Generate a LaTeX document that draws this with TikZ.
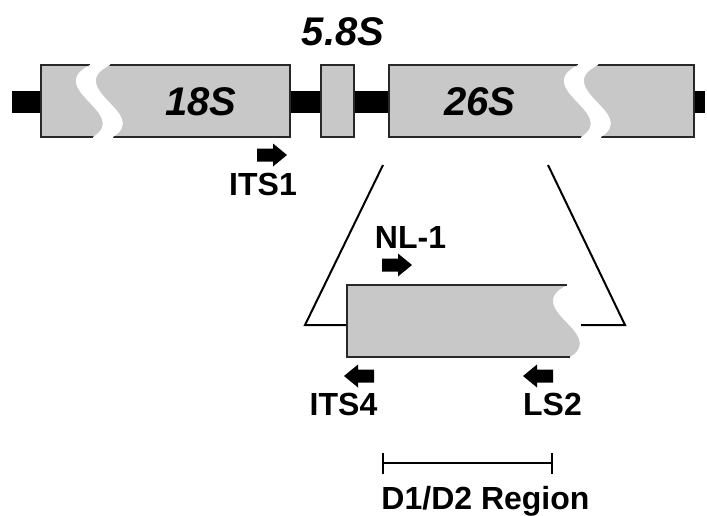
\documentclass[tikz,border=0pt]{standalone}
\usepackage{fontspec}
\setmainfont{Liberation Sans}
\definecolor{boxgray}{RGB}{200,200,200}
\definecolor{boxline}{RGB}{40,40,40}
\tikzset{
  genebox/.style={rectangle, fill=boxgray, draw=boxline, line width=1.2pt, inner sep=0pt, minimum height=72pt},
  lbl/.style={font=\bfseries\fontsize{32}{36}\selectfont, anchor=base, inner sep=0pt},
  biglbl/.style={font=\bfseries\itshape\fontsize{40}{44}\selectfont, anchor=base, inner sep=0pt},
  trapline/.style={line width=2pt, black},
  rarr/.pic={\fill (-15,-6.5) -- (1,-6.5) -- (1,-11.5) -- (15,0) -- (1,11.5) -- (1,6.5) -- (-15,6.5) -- cycle;}
}
\begin{document}
\begin{tikzpicture}[x=1pt,y=-1pt]
\useasboundingbox (0,0) rectangle (707,515);
% backbone bar
\fill[black] (12,91) rectangle (705,113);
% gene boxes
\node[genebox, minimum width=249pt] (b18) at (165.5,101) {};
\node[genebox, minimum width=33pt] (b58) at (337.5,101) {};
\node[genebox, minimum width=305pt] (b26) at (541.5,101) {};
% wavy breaks
\fill[white] (90,62) -- (90,65) .. controls (43,89) and (131,113) .. (93,137) -- (93,140) -- (113,140) -- (113,137) .. controls (151,113) and (63,89) .. (110,65) -- (110,62) -- cycle;
\fill[white] (578,62) -- (578,65) .. controls (531,89) and (619,113) .. (581,137) -- (581,140) -- (601,140) -- (601,137) .. controls (639,113) and (551,89) .. (598,65) -- (598,62) -- cycle;
% labels
\node[biglbl] (l18) at (201,115) {18S};
\node[biglbl] (l26) at (480,115) {26S};
\node[biglbl] (l58) at (343,45) {5.8S};
% expansion lines
\coordinate (tl1) at (383,165);
\coordinate (tl2) at (305,325);
\coordinate (tl3) at (347,325);
\coordinate (tr1) at (548,165);
\coordinate (tr2) at (625,325);
\coordinate (tr3) at (581,325);
\draw[trapline, line join=miter] (tl1) -- (tl2) -- (tl3);
\draw[trapline, line join=miter] (tr1) -- (tr2) -- (tr3);
% lower box with wavy right edge
\fill[boxgray] (347,285) -- (567,285) .. controls (520,309) and (608,333) .. (570,357) -- (347,357) -- cycle;
\draw[boxline, line width=1.2pt] (567,285) -- (347,285) -- (347,357) -- (570,357);
% primer arrows
\pic at (272,155) {rarr};
\pic at (397,265) {rarr};
\pic[rotate=180] at (359,376) {rarr};
\pic[rotate=180] at (538,376) {rarr};
% primer labels
\node[lbl] (its1) at (263,195) {ITS1};
\node[lbl] (nl1) at (410.5,248) {NL-1};
\node[lbl] (its4) at (343.5,415) {ITS4};
\node[lbl] (ls2) at (552.5,415) {LS2};
% scale bar
\coordinate (sa) at (383,463);
\coordinate (sb) at (552,463);
\draw[line width=2pt] (sa) -- (sb);
\draw[line width=2pt] ([yshift=-11pt]sa) -- ([yshift=10pt]sa);
\draw[line width=2pt] ([yshift=-11pt]sb) -- ([yshift=10pt]sb);
\node[lbl] (reg) at (485.5,509) {D1/D2 Region};
\end{tikzpicture}
\end{document}
